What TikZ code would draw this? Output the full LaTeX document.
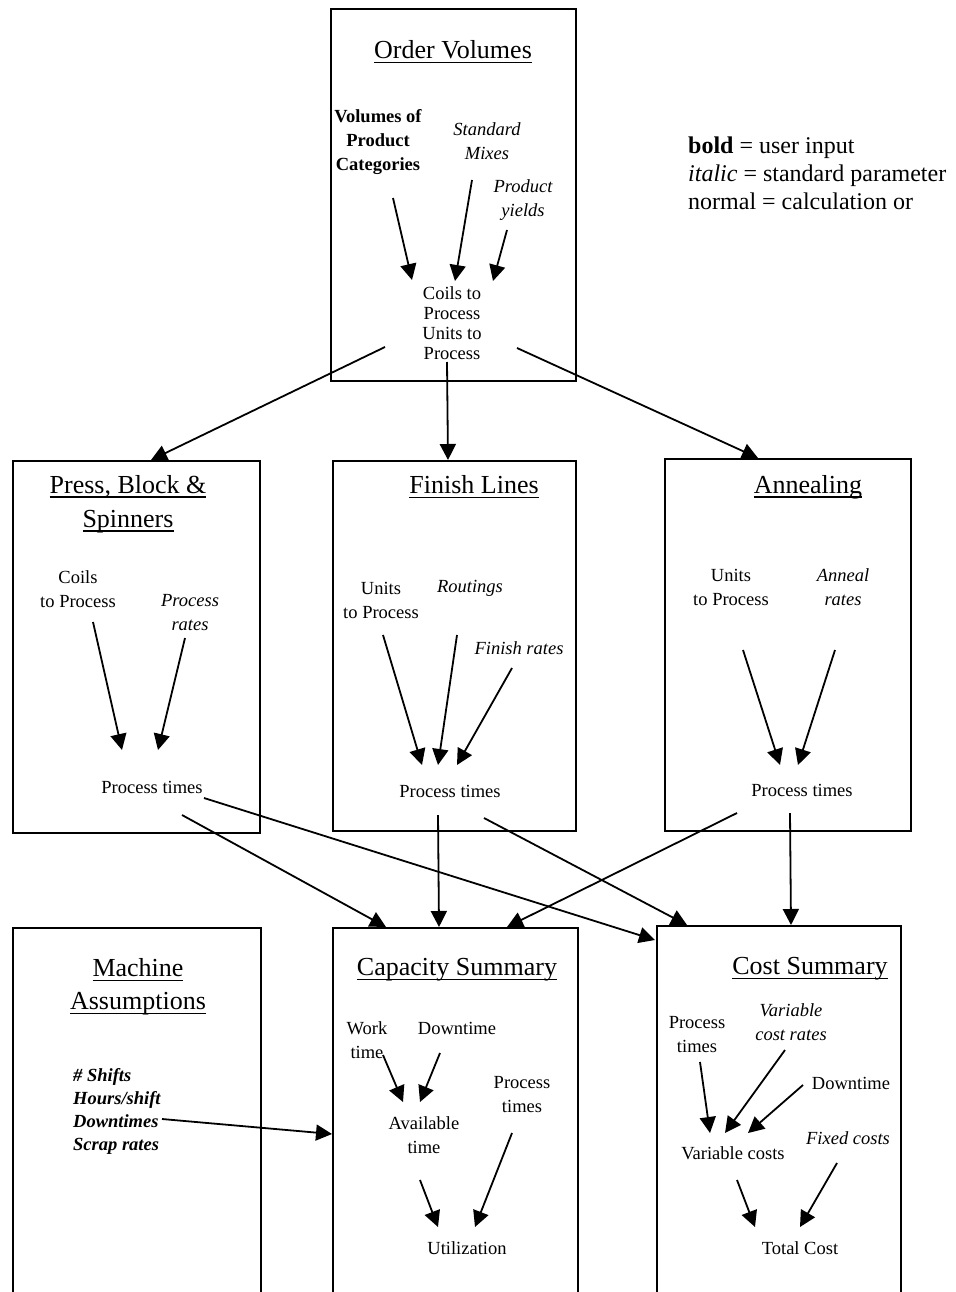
\documentclass[tikz,border=0pt]{standalone}
\usepackage{fontspec}
\setmainfont{Liberation Serif}
\usetikzlibrary{arrows.meta}
% heading with a word-processor style underline that runs through descenders
\newcommand\ulttl[1]{\setbox0\hbox{#1}\rlap{\rule[-4.5pt]{\wd0}{1.5pt}}\box0}
\begin{document}
\begin{tikzpicture}[x=1pt,y=-1pt,
  box/.style={draw, line width=2pt, inner sep=0pt, anchor=north west},
  ttl/.style={font=\fontsize{26}{34}\selectfont, align=center, inner sep=0pt},
  body/.style={font=\fontsize{18.5}{24}\selectfont, align=center, inner sep=0pt},
  param/.style={body, font=\fontsize{18.5}{24}\selectfont\itshape},
  userin/.style={body, font=\fontsize{18.5}{24}\selectfont\bfseries},
  arr/.style={line width=1.8pt, -{Triangle[length=16pt,width=16pt]}}]
\clip (0,0) rectangle (955,1292);
\fill[white] (0,0) rectangle (955,1292);

% ---------- boxes ----------
\node[box, minimum width=245pt, minimum height=372pt] (ov) at (330,8) {};
\node[box, minimum width=247pt, minimum height=372pt] (pb) at (12,460) {};
\node[box, minimum width=243pt, minimum height=370pt] (fl) at (332,460) {};
\node[box, minimum width=246pt, minimum height=372pt] (an) at (664,458) {};
\node[box, minimum width=248pt, minimum height=400pt] (ma) at (12,927) {};
\node[box, minimum width=245pt, minimum height=400pt] (cs) at (332,927) {};
\node[box, minimum width=244pt, minimum height=400pt] (co) at (656,925) {};

% ---------- legend ----------
\node[anchor=west, align=left, inner sep=0pt, font=\fontsize{24}{28}\selectfont] (legend) at (688,173)
  {\textbf{bold} = user input\\ \textit{italic} = standard parameter\\ normal = calculation or};

% ---------- Order Volumes ----------
\node[ttl] (tov) at (453,52) {\ulttl{Order Volumes}};
\node[userin] (vol) at (378,142) {Volumes of\\Product\\Categories};
\node[param] (mix) at (487,141) {Standard\\Mixes};
\node[param] (yld) at (523,200) {Product\\yields};
\node[body, font=\fontsize{18.5}{20}\selectfont] (coils) at (452,323) {Coils to\\Process\\Units to\\Process};

\draw[arr] ([shift={(15,56)}]vol.center) -- ([shift={(-40,-43)}]coils.center);
\draw[arr] ([shift={(-15,39)}]mix.center) -- ([shift={(3,-42)}]coils.center);
\draw[arr] ([shift={(-16,30)}]yld.center) -- ([shift={(41,-42)}]coils.center);

% ---------- Press, Block & Spinners ----------
\node[ttl] (tpb) at (128,504) {\ulttl{Press, Block \&}\\\ulttl{Spinners}};
\node[body] (pbin) at (78,589) {Coils\\to Process};
\node[param] (pbrt) at (190,613) {Process\\rates};
\node[body] (pbpt) at (152,787) {Process times};
\draw[arr] ([shift={(15,33)}]pbin.center) -- ([shift={(-30,-37)}]pbpt.center);
\draw[arr] ([shift={(-5,25)}]pbrt.center) -- ([shift={(6,-37)}]pbpt.center);

% ---------- Finish Lines ----------
\node[ttl] (tfl) at (474,487) {\ulttl{Finish Lines}};
\node[body] (flin) at (381,600) {Units\\to Process};
\node[param] (flro) at (470,588) {Routings};
\node[param] (flfr) at (519,648) {Finish rates};
\node[body] (flpt) at (450,791) {Process times};
\draw[arr] ([shift={(2,35)}]flin.center) -- ([shift={(-28,-26)}]flpt.center);
\draw[arr] ([shift={(-13,47)}]flro.center) -- ([shift={(-12,-26)}]flpt.center);
\draw[arr] ([shift={(-7,20)}]flfr.center) -- ([shift={(7,-26)}]flpt.center);

% ---------- Annealing ----------
\node[ttl] (tan) at (808,487) {\ulttl{Annealing}};
\node[body] (anin) at (731,587) {Units\\to Process};
\node[param] (anrt) at (843,587) {Anneal\\rates};
\node[body] (anpt) at (802,790) {Process times};
\draw[arr] ([shift={(12,63)}]anin.center) -- ([shift={(-22,-25)}]anpt.center);
\draw[arr] ([shift={(-8,63)}]anrt.center) -- ([shift={(-4,-25)}]anpt.center);

% ---------- Machine Assumptions ----------
\node[ttl, font=\fontsize{26}{33}\selectfont] (tma) at (138,987) {\ulttl{Machine}\\\ulttl{Assumptions}};
\node[param, align=left, anchor=west, font=\fontsize{18.5}{23}\selectfont\itshape\bfseries] (malist) at (73,1111.5)
  {\# Shifts\\Hours/shift\\Downtimes\\Scrap rates};

% ---------- Capacity Summary ----------
\node[ttl] (tcs) at (457,970) {\ulttl{Capacity Summary}};
\node[body] (cswt) at (367,1040) {Work\\time};
\node[body] (csdt) at (457,1028) {Downtime};
\node[body] (cspt) at (522,1095) {Process\\times};
\node[body] (csav) at (424,1135) {Available\\time};
\node[body] (csut) at (467,1248) {Utilization};
\draw[arr] ([shift={(16,15)}]cswt.center) -- ([shift={(-21,-33)}]csav.center);
\draw[arr] ([shift={(-17,25)}]csdt.center) -- ([shift={(-4,-33)}]csav.center);
\draw[arr] ([shift={(-4,45)}]csav.center) -- ([shift={(-29,-21)}]csut.center);
\draw[arr] ([shift={(-10,38)}]cspt.center) -- ([shift={(8,-21)}]csut.center);

% ---------- Cost Summary ----------
\node[ttl] (tco) at (810,969) {\ulttl{Cost Summary}};
\node[body] (copt) at (697,1035) {Process\\times};
\node[param] (covr) at (791,1022) {Variable\\cost rates};
\node[body] (codt) at (851,1083) {Downtime};
\node[param] (cofx) at (848,1138) {Fixed costs};
\node[body] (covc) at (733,1153) {Variable costs};
\node[body] (cotc) at (800,1248) {Total Cost};
\draw[arr] ([shift={(3,27)}]copt.center) -- ([shift={(-23,-20)}]covc.center);
\draw[arr] ([shift={(-6,28)}]covr.center) -- ([shift={(-8,-20)}]covc.center);
\draw[arr] ([shift={(-48,2)}]codt.center) -- ([shift={(15,-20)}]covc.center);
\draw[arr] ([shift={(4,27)}]covc.center) -- ([shift={(-45,-21)}]cotc.center);
\draw[arr] ([shift={(-11,25)}]cofx.center) -- ([shift={(0,-21)}]cotc.center);

% ---------- links between the blocks ----------
\draw[arr] ([shift={(-67,24)}]coils.center) -- ([shift={(14.5,0)}]pb.north);
\draw[arr] ([shift={(-5,39)}]coils.center) -- ([shift={(-6.5,0)}]fl.north);
\draw[arr] ([shift={(65,25)}]coils.center) -- ([shift={(-30,0)}]an.north);

\draw[arr] ([shift={(30,28)}]pbpt.center) -- ([shift={(-69.5,0)}]cs.north);
\draw[arr] ([shift={(52,11)}]pbpt.center) -- ([shift={(-1,15)}]co.north west);
\draw[arr] ([shift={(-12,24)}]flpt.center) -- ([shift={(-16.5,0)}]cs.north);
\draw[arr] ([shift={(34,27)}]flpt.center) -- ([shift={(-92,0)}]co.north);
\draw[arr] ([shift={(-65,23)}]anpt.center) -- ([shift={(51.5,0)}]cs.north);
\draw[arr] ([shift={(-12,23)}]anpt.center) -- ([shift={(12,0)}]co.north);

\draw[arr] ([shift={(89,7.5)}]malist.west) -- ([shift={(0,6)}]cs.west);
\end{tikzpicture}
\end{document}
